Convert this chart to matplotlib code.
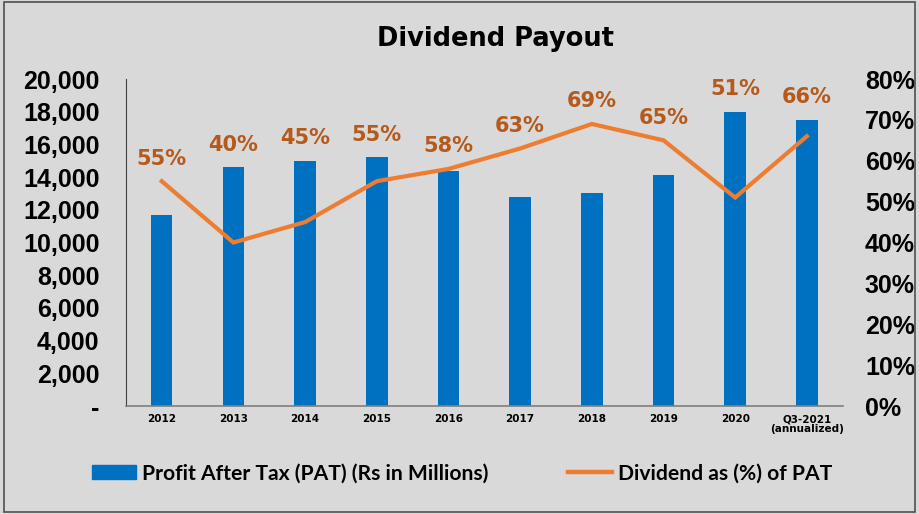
import matplotlib.pyplot as plt
from matplotlib.patches import Rectangle, Patch
from matplotlib.lines import Line2D
from matplotlib.ticker import FuncFormatter

# datos
years = ['2012', '2013', '2014', '2015', '2016', '2017', '2018', '2019', '2020',
         'Q3-2021\n(annualized)']
pat = [11700, 14600, 15000, 15200, 14400, 12800, 13000, 14100, 18000, 17500]
payout = [55, 40, 45, 55, 58, 63, 69, 65, 51, 66]

bg = '#D9D9D9'
blue = '#0070C0'
orange = '#ED7D31'
lblcol = '#B55A1C'

fig = plt.figure(figsize=(9.19, 5.14), dpi=100, facecolor=bg)
ax = fig.add_axes([0.137, 0.2101, 0.78, 0.6362])
ax.set_facecolor(bg)
x = list(range(len(years)))
ax.bar(x, pat, width=0.3, color=blue, zorder=2)
ax.set_xlim(-0.5, len(years) - 0.5)
ax.set_ylim(0, 20000)
ax.set_yticks(range(0, 20001, 2000))
ax.yaxis.set_major_formatter(FuncFormatter(lambda v, p: '-' if v == 0 else f'{int(v):,}'))
ax.set_xticks(x)
ax.set_xticklabels(years, fontsize=7.5, fontweight='bold', family='Liberation Sans Narrow',
                   linespacing=0.95)
for t in ax.get_yticklabels():
    t.set_fontsize(18)
    t.set_fontweight('bold')
    t.set_family('Liberation Sans')
ax.tick_params(axis='y', length=0, pad=19)
ax.tick_params(axis='x', length=0, pad=6)
for s in ['top', 'right']:
    ax.spines[s].set_visible(False)
ax.spines['left'].set_color('#404040')
ax.spines['bottom'].set_color('#808080')
ax.spines['bottom'].set_linewidth(1.2)

# eje secundario con el porcentaje
ax2 = ax.twinx()
ax2.plot(x, payout, color=orange, lw=3, zorder=3, solid_joinstyle='miter')
ax2.set_ylim(0, 80)
ax2.set_yticks(range(0, 81, 10))
ax2.set_yticklabels([f'{v}%' for v in range(0, 81, 10)], fontsize=18,
                    fontweight='bold', family='Liberation Sans')
ax2.tick_params(axis='y', length=0, pad=16)
for s in ['top', 'right', 'left', 'bottom']:
    ax2.spines[s].set_visible(False)

# etiquetas sobre la barra o la linea, lo que este mas alto
for i in x:
    top = max(payout[i], pat[i] / 20000 * 80)
    ax2.text(i, top + 5.5, f'{payout[i]}%', ha='center', va='center', fontsize=15,
             fontweight='bold', color=lblcol, family='DejaVu Sans')

fig.text(0.539, 0.924, 'Dividend Payout', ha='center', va='center', fontsize=18.5,
         fontweight='bold', family='DejaVu Sans')

handles = [Patch(color=blue), Line2D([], [], color=orange, lw=3.2)]
fig.legend(handles, ['Profit After Tax (PAT) (Rs in Millions)', 'Dividend as (%) of PAT'],
           loc='center', bbox_to_anchor=(0.503, 0.079), ncol=2, frameon=False,
           prop={'family': 'Lato', 'size': 15.2, 'weight': 'bold'}, columnspacing=3.8,
           handlelength=2.05, handletextpad=0.3)

fig.patches.append(Rectangle((0.004, 0.004), 0.992, 0.993, transform=fig.transFigure,
                             fill=False, edgecolor='#505050', lw=1.2))

fig.savefig('out.png', dpi=100, facecolor=bg)
